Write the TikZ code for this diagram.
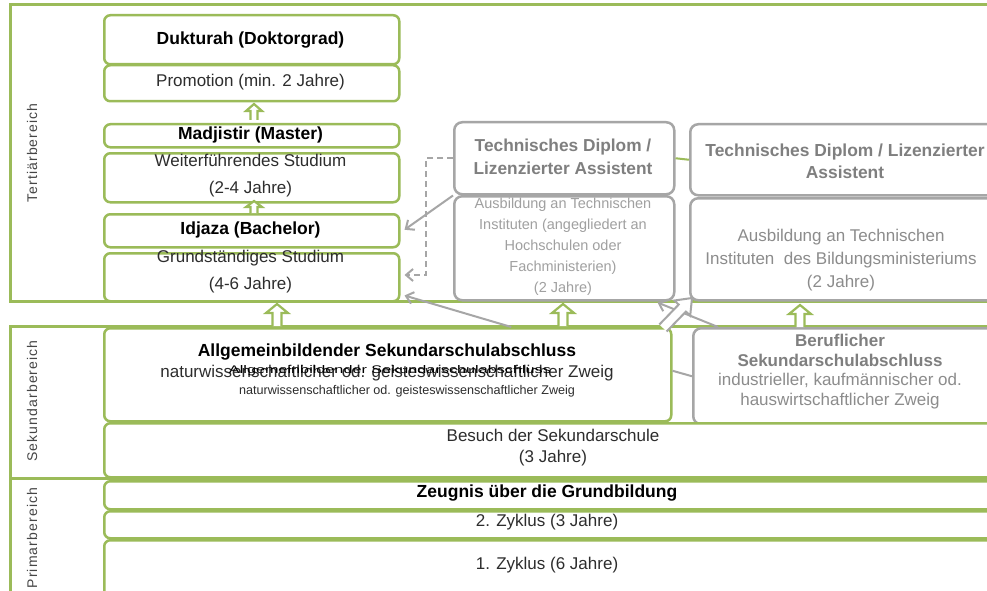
\documentclass[tikz,border=0pt]{standalone}
\usepackage{graphicx}
\usepackage{fontspec}
\setmainfont{Liberation Sans}
\newfontfamily\lblfont[LetterSpace=8]{Liberation Sans}
\usetikzlibrary{arrows.meta}
\definecolor{grn}{RGB}{155,187,89}
\definecolor{gbd}{RGB}{166,166,166}
\definecolor{gttl}{RGB}{127,127,127}
\definecolor{gtxt}{RGB}{140,140,140}
\definecolor{gtxtl}{RGB}{160,160,160}
\definecolor{lbl}{RGB}{70,70,70}
\definecolor{dtxt}{RGB}{45,45,45}
\newcommand\fs[2]{\fontsize{#1}{#2}\selectfont}
% hollow up arrow: x, ybottom, ytop, head length, half shaft, half head
\newcommand\upar[6]{%
  \filldraw[draw=grn, fill=white, line width=2.2pt, line join=miter]
    ({#1-#5},#2) -- ({#1-#5},{#3+#4}) -- ({#1-#6},{#3+#4}) -- (#1,#3)
    -- ({#1+#6},{#3+#4}) -- ({#1+#5},{#3+#4}) -- ({#1+#5},#2);}
\begin{document}
\begin{tikzpicture}[x=1pt,y=-1pt,
  gbox/.style={draw=grn, line width=2.5pt, rounded corners=6pt, fill=white, anchor=north west, inner sep=0pt},
  grbox/.style={draw=gbd, line width=2.5pt, rounded corners=8pt, fill=white, anchor=north west, inner sep=0pt},
  wh/.style 2 args={minimum width=#1pt, minimum height=#2pt},
  frame/.style={draw=grn, line width=3pt},
  txt/.style={align=center, inner sep=0pt, text=dtxt, font=\fs{17}{27}},
  btxt/.style={align=center, inner sep=0pt, text=black, font=\fs{17.5}{22}\bfseries},
  gtitle/.style={align=center, inner sep=0pt, text=gttl, font=\fs{17.3}{23}\bfseries},
  lbltxt/.style={rotate=90, inner sep=0pt, text=lbl, font=\lblfont\fs{14}{14}},
  garrow/.style={draw=gbd, line width=2pt, -{Straight Barb[length=7pt,width=12pt]}},
  gdash/.style={draw=gbd, line width=2pt, dash pattern=on 6pt off 4pt, -{Straight Barb[length=7pt,width=12pt]}},
  gline/.style={draw=gbd, line width=2pt}
]
\clip (0,0) rectangle (987,591);
\fill[white] (0,0) rectangle (987,591);

% area frames
\draw[frame] (1000,5) -- (10,5) -- (10,301) -- (1000,301);
\draw[frame] (1000,326) -- (10,326) -- (10,600);
\draw[frame] (10,478) -- (1000,478);

% area labels
\node[lbltxt] (lter) at (32,153) {Tertiärbereich};
\node[lbltxt] (lsek) at (32,401) {Sekundarbereich};
\node[lbltxt] (lpri) at (32,538) {Primarbereich};

% tertiary, left column
\node[gbox, wh={295}{49}] (duk) at (103,14) {};
\node[gbox, wh={295}{36}] (prom) at (103,64) {};
\node[gbox, wh={295}{23}] (mad) at (103,123) {};
\node[gbox, wh={295}{49}] (wei) at (103,152) {};
\node[gbox, wh={295}{33}] (idj) at (103,213) {};
\node[gbox, wh={295}{48}] (grs) at (103,252) {};

\node[btxt] (dukT) at (250.5,40) {Dukturah (Doktorgrad)};
\node[txt] (promT) at (250.5,82) {Promotion (min. 2 Jahre)};
\node[btxt] (madT) at (250.5,134.5) {Madjistir (Master)};
\node[txt] (weiT) at (250.5,175.5) {Weiterführendes Studium\\(2-4 Jahre)};
\node[btxt] (idjT) at (250.5,229.5) {Idjaza (Bachelor)};
\node[txt] (grsT) at (250.5,271.5) {Grundständiges Studium\\(4-6 Jahre)};

% tertiary, middle column
\node[grbox, wh={220}{72}] (tdm) at (453,121) {};
\node[grbox, wh={220}{104}] (tam) at (453,195) {};
\node[gtitle] (tdmT) at (563,156.5) {Technisches Diplom /\\Lizenzierter Assistent};
\node[align=center, inner sep=0pt, text=gtxtl, font=\fs{14.5}{21}] (tamT) at (563,247)
  {Ausbildung an Technischen\\Instituten (angegliedert an\\Hochschulen oder\\Fachministerien)\\(2 Jahre)};

% tertiary, right column
\node[grbox, wh={308}{71}] (tdr) at (689,123) {};
\node[grbox, wh={308}{102}] (tar) at (689,197) {};
\node[gtitle, font=\fs{17.4}{22}\bfseries] (tdrT) at (845,161) {Technisches Diplom / Lizenzierter\\Assistent};
\node[align=center, inner sep=0pt, text=gtxt, font=\fs{17}{23}] (tarT) at (841,260)
  {Ausbildung an Technischen\\Instituten\ \ des Bildungsministeriums\\(2 Jahre)};

% secondary
\node[gbox, wh={567}{93}] (allg) at (103,327) {};
\node[grbox, wh={305}{96}] (beruf) at (692,327) {};
\node[gbox, wh={900}{54}] (bes) at (103,422) {};

\node[btxt] (allgT) at (387,352) {Allgemeinbildender Sekundarschulabschluss};
\node[inner sep=0pt, text=dtxt, font=\fs{17}{17}] (allgG) at (387,373) {naturwissenschaftlicher od. geisteswissenschaftlicher Zweig};
\node[inner sep=0pt, text=black] (allgO) at (390,371) {\resizebox{322pt}{8pt}{\fs{12}{12}Allgemeinbildender Sekundarschulabschluss}};
\node[inner sep=0pt, text=dtxt, font=\fs{12.6}{12.6}] (allgS) at (407,391) {naturwissenschaftlicher od. geisteswissenschaftlicher Zweig};

\node[align=center, inner sep=0pt, text=gttl, font=\fs{17}{19.7}] (berufT) at (840,371.5)
  {\textbf{Beruflicher}\\\textbf{Sekundarschulabschluss}\\{\color{gtxt}industrieller, kaufmännischer od.}\\{\color{gtxt}hauswirtschaftlicher Zweig}};
\node[txt, font=\fs{17}{21}] (besT) at (553,447.5) {Besuch der Sekundarschule\\(3 Jahre)};

% primary
\node[gbox, wh={900}{28}] (zeu) at (103,480) {};
\node[gbox, wh={900}{27}] (zy2) at (103,510) {};
\node[gbox, wh={900}{60}] (zy1) at (103,539) {};
\node[btxt] (zeuT) at (547,493) {Zeugnis über die Grundbildung};
\node[txt] (zy2T) at (547,522.5) {2. Zyklus (3 Jahre)};
\node[txt] (zy1T) at (547,565) {1. Zyklus (6 Jahre)};

% connectors
\draw[draw=grn, line width=2pt] (tdm.east) -- (tdr.west);
\draw[garrow] (tdm.south west) -- ([xshift=4pt,yshift=1pt]idj.east);
\coordinate (dk) at (426,275);
\draw[gdash] (tdm.west) -| (dk) -- ([xshift=4pt]dk -| grs.east);
\draw[garrow] ([xshift=123.5pt]allg.north) -- ([xshift=4pt,yshift=7pt]grs.south east);
\draw[garrow] ([xshift=26pt]beruf.north west) -- ([xshift=-18pt,yshift=-1pt]tam.south east);
\draw[gline] ([yshift=4pt]allg.east) -- (beruf.west);

% hollow arrows
\upar{254}{120}{104}{7}{3.5}{8}
\upar{254}{213}{201}{6}{3.5}{8}
\upar{277}{326}{304}{9}{4.5}{11}
\upar{563}{326}{304}{9}{4.5}{11}
\upar{800}{327}{305}{9}{4.5}{11}
\filldraw[draw=gbd, fill=white, line width=2pt, line join=miter]
  (666.6,331.5) -- (685.9,311.6) -- (690.2,315.7) -- (692,298)
  -- (674.4,300.5) -- (678.7,304.6) -- (659.4,324.5);
\end{tikzpicture}
\end{document}
